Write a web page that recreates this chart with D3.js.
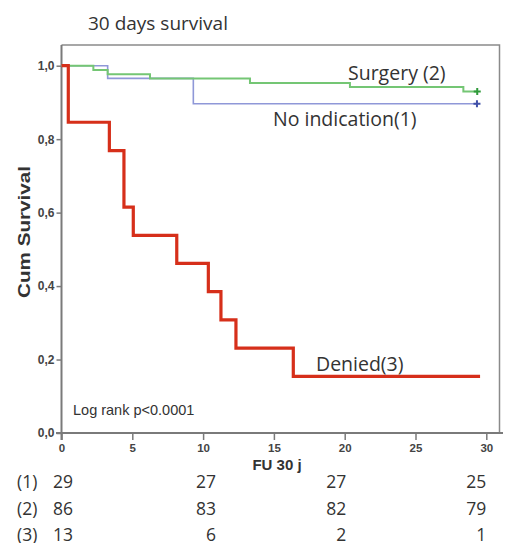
<!DOCTYPE html>
<html>
<head>
<meta charset="utf-8">
<script src="https://cdn.jsdelivr.net/npm/d3@7/dist/d3.min.js"></script>
<style>
  html, body { margin: 0; padding: 0; background: #fff; }
  svg { display: block; }
</style>
</head>
<body>
<svg id="chart" width="508" height="543"></svg>
<script>
// Kaplan-Meier estimates, 30-day follow-up
const noIndicationTimes = [0, 3.26, 9.31, 29.34];
const noIndicationSurv  = [1, 0.9655, 0.8966, 0.8966];

const surgeryTimes = [0, 2.25, 3.26, 6.25, 13.31, 20.37, 28.38, 29.36];
const surgerySurv  = [1, 0.988, 0.977, 0.965, 0.953, 0.942, 0.930, 0.930];

const deniedTimes = [0, 0.48, 3.38, 4.41, 5.07, 8.14, 10.37, 11.26, 12.32, 16.37, 29.56];
const deniedSurv  = [1, 0.846, 0.769, 0.615, 0.538, 0.462, 0.385, 0.308, 0.231, 0.154, 0.154];

const groupLabels = ["No indication(1)", "Surgery (2)", "Denied(3)"];
const riskRowLabels = ["(1)", "(2)", "(3)"];

// Number at risk
const riskTimes = [0, 10, 20, 30];
const riskNoIndication = [29, 27, 27, 25];
const riskSurgery = [86, 83, 82, 79];
const riskDenied = [13, 6, 2, 1];

const xTicks = [0, 5, 10, 15, 20, 25, 30];
const yTicks = [0, 0.2, 0.4, 0.6, 0.8, 1.0];

const svg = d3.select("#chart");

const x = d3.scaleLinear().domain([0, 30]).range([61.5, 486.3]);
const y = d3.scaleLinear().domain([0, 1]).range([433, 65.7]);

const axisColor = "#7a7a7a";
const textDark = "#333";
const sansBold = "Liberation Sans, Arial, sans-serif";
const labelFont = "Open Sans, sans-serif";

// Plot frame (top and right)
svg.append("path")
  .attr("d", `M${x(0)},45 H499.5 V${y(0)}`)
  .attr("fill", "none")
  .attr("stroke", "#8a8a8a")
  .attr("stroke-width", 1.5);

// Y axis
const yAxis = d3.axisLeft(y)
  .tickValues(yTicks)
  .tickSize(5)
  .tickPadding(2)
  .tickFormat(d => d3.format(".1f")(d).replace(".", ","));
const gy = svg.append("g").attr("transform", `translate(${x(0)},0)`).call(yAxis);
gy.select(".domain").attr("d", `M0,45 V440`).attr("stroke", axisColor).attr("stroke-width", 2);
gy.selectAll(".tick line").attr("stroke", axisColor).attr("stroke-width", 1.5);
gy.selectAll(".tick text")
  .attr("font-family", sansBold)
  .attr("font-weight", "bold")
  .attr("font-size", 12)
  .attr("fill", "#444");

// X axis
const xAxis = d3.axisBottom(x)
  .tickValues(xTicks)
  .tickSize(7)
  .tickPadding(4)
  .tickFormat(d3.format("d"));
const gx = svg.append("g").attr("transform", `translate(0,${y(0)})`).call(xAxis);
gx.select(".domain").attr("d", `M56,0 H503`).attr("stroke", axisColor).attr("stroke-width", 2);
gx.selectAll(".tick line").attr("stroke", axisColor).attr("stroke-width", 1.5);
gx.selectAll(".tick text")
  .attr("font-family", sansBold)
  .attr("font-weight", "bold")
  .attr("font-size", 11.5)
  .attr("fill", "#444");

// Axis titles
svg.append("text")
  .attr("transform", `translate(30,232) rotate(-90)`)
  .attr("text-anchor", "middle")
  .attr("font-family", sansBold)
  .attr("font-weight", "bold")
  .attr("font-size", 16)
  .attr("textLength", 132)
  .attr("lengthAdjust", "spacingAndGlyphs")
  .attr("fill", textDark)
  .text("Cum Survival");

svg.append("text")
  .attr("x", 277)
  .attr("y", 470)
  .attr("text-anchor", "middle")
  .attr("font-family", sansBold)
  .attr("font-weight", "bold")
  .attr("font-size", 15)
  .attr("fill", textDark)
  .text("FU 30 j");

// Title
svg.append("text")
  .attr("x", 88)
  .attr("y", 30)
  .attr("font-family", labelFont)
  .attr("font-size", 19)
  .attr("fill", textDark)
  .text("30 days survival");

// Survival curves
const step = d3.line()
  .x(d => x(d[0]))
  .y(d => y(d[1]))
  .curve(d3.curveStepAfter);

const curves = [
  { times: noIndicationTimes, surv: noIndicationSurv, color: "#8f98d8", width: 1.6, censor: "#3f4fa8" },
  { times: surgeryTimes, surv: surgerySurv, color: "#74c674", width: 2, censor: "#2f9a3a" },
  { times: deniedTimes, surv: deniedSurv, color: "#d62f1a", width: 3.2, censor: null }
];

curves.forEach(c => {
  const pts = c.times.map((t, i) => [t, c.surv[i]]);
  svg.append("path")
    .datum(pts)
    .attr("d", step)
    .attr("fill", "none")
    .attr("stroke", c.color)
    .attr("stroke-width", c.width)
    .attr("stroke-linejoin", "miter");
  if (c.censor) {
    const last = pts[pts.length - 1];
    const cx = x(last[0]), cy = y(last[1]);
    svg.append("path")
      .attr("d", `M${cx - 3.5},${cy} H${cx + 3.5} M${cx},${cy - 3.5} V${cy + 3.5}`)
      .attr("stroke", c.censor)
      .attr("stroke-width", 2);
  }
});

// Curve labels
const curveLabels = [
  { text: groupLabels[1], x: 348, y: 80 },
  { text: groupLabels[0], x: 273, y: 126 },
  { text: groupLabels[2], x: 316, y: 371 }
];
curveLabels.forEach(l => {
  svg.append("text")
    .attr("x", l.x)
    .attr("y", l.y)
    .attr("font-family", labelFont)
    .attr("font-size", 19.5)
    .attr("fill", textDark)
    .text(l.text);
});

svg.append("text")
  .attr("x", 73)
  .attr("y", 415)
  .attr("font-family", sansBold)
  .attr("font-size", 14.5)
  .attr("fill", textDark)
  .text("Log rank p<0.0001");

// Number-at-risk table
const riskRows = [riskNoIndication, riskSurgery, riskDenied];
const rowBase = [488, 515, 541];
const colEndShift = [11.5, 13, 1.5, 0];
riskRows.forEach((row, r) => {
  svg.append("text")
    .attr("x", 17)
    .attr("y", rowBase[r])
    .attr("font-family", labelFont)
    .attr("font-size", 17.5)
    .attr("fill", textDark)
    .text(riskRowLabels[r]);
  row.forEach((v, i) => {
    svg.append("text")
      .attr("x", x(riskTimes[i]) + colEndShift[i])
      .attr("y", rowBase[r])
      .attr("text-anchor", "end")
      .attr("font-family", labelFont)
      .attr("font-size", 17.5)
      .attr("fill", textDark)
      .text(v);
  });
});
</script>
</body>
</html>
